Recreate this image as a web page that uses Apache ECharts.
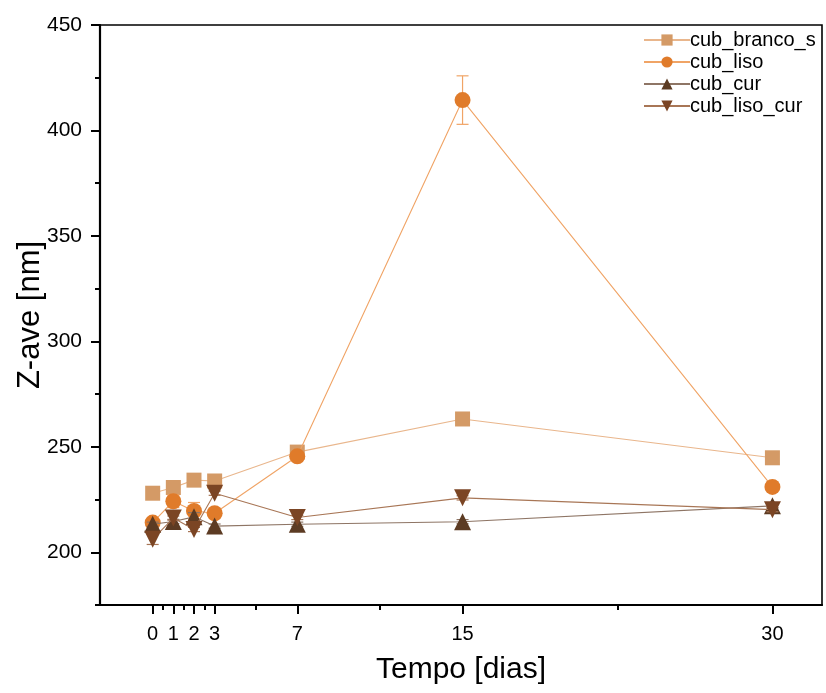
<!DOCTYPE html>
<html>
<head>
<meta charset="utf-8">
<script src="https://cdn.jsdelivr.net/npm/echarts@6/dist/echarts.min.js"></script>
<style>
html,body{margin:0;padding:0;background:#fff;}
#chart{width:826px;height:693px;}
</style>
</head>
<body>
<div id="chart"></div>
<script>
const days = [0, 1, 2, 3, 7, 15, 30];
const xMajorTicks = [0, 1, 2, 3, 7, 15, 30];
const xMinorTicks = [0.5, 1.5, 2.5, 5, 11, 22.5];
const yMajorTicks = [200, 250, 300, 350, 400, 450];
const yMinorTicks = [175, 225, 275, 325, 375, 425];

const seriesNames = ['cub_branco_s', 'cub_liso', 'cub_cur', 'cub_liso_cur'];
const cub_branco_s = [228.0, 230.7, 234.2, 233.8, 247.5, 263.2, 244.8];
const cub_liso = [214.1, 224.2, 219.6, 218.5, 245.5, 414.4, 231.0];
const cub_cur = [213.3, 214.6, 216.8, 212.4, 213.3, 214.5, 222.0];
const cub_liso_cur = [206.2, 216.2, 210.8, 228.0, 216.5, 225.8, 220.2];

const err_branco_s = [1.0, 1.5, 1.0, 1.0, 1.0, 1.0, 1.0];
const err_liso = [1.5, 3.0, 4.0, 1.5, 1.5, 11.5, 1.5];
const err_cur = [1.0, 1.0, 2.0, 1.0, 1.0, 1.0, 1.0];
const err_liso_cur = [2.5, 1.0, 1.0, 1.0, 1.0, 1.0, 1.0];

const values = [cub_branco_s, cub_liso, cub_cur, cub_liso_cur];
const errors = [err_branco_s, err_liso, err_cur, err_liso_cur];
const markerColors = ['#D49A66', '#E07B2A', '#5C3B23', '#7B4524'];
const lineColors = ['#E9B68C', '#F0A466', '#8E7565', '#A87656'];
const symbols = ['rect', 'circle', 'triangle', 'path://M0,0 L10,0 L5,9 Z'];
const sizes = [15, 16, 17, 17];

const FONT = 'Liberation Sans, Arial, sans-serif';

const chart = echarts.init(document.getElementById('chart'));

const series = [];
for (let i = 0; i < 4; i++) {
  const pts = days.map((d, k) => [d, values[i][k]]);
  const errData = days.map((d, k) => [d, values[i][k] - errors[i][k], values[i][k] + errors[i][k]]);
  series.push({
    type: 'custom',
    name: seriesNames[i] + '_err',
    xAxisIndex: 0, yAxisIndex: 0,
    z: 2 + i * 2,
    silent: true,
    data: errData,
    renderItem: function (params, api) {
      const x = api.value(0);
      const lo = api.coord([x, api.value(1)]);
      const hi = api.coord([x, api.value(2)]);
      const w = 6;
      return {
        type: 'group',
        children: [
          {type: 'line', shape: {x1: lo[0], y1: lo[1], x2: hi[0], y2: hi[1]}, style: {stroke: lineColors[i], lineWidth: 1.2}},
          {type: 'line', shape: {x1: lo[0] - w, y1: lo[1], x2: lo[0] + w, y2: lo[1]}, style: {stroke: lineColors[i], lineWidth: 1.2}},
          {type: 'line', shape: {x1: hi[0] - w, y1: hi[1], x2: hi[0] + w, y2: hi[1]}, style: {stroke: lineColors[i], lineWidth: 1.2}}
        ]
      };
    }
  });
  series.push({
    type: 'line',
    name: seriesNames[i],
    xAxisIndex: 0, yAxisIndex: 0,
    z: 3 + i * 2,
    data: pts,
    symbol: symbols[i],
    symbolSize: sizes[i],
    showAllSymbol: true,
    itemStyle: {color: markerColors[i], opacity: 1},
    lineStyle: {color: lineColors[i], width: 1.1},
    emphasis: {disabled: true},
    animation: false
  });
}

const option = {
  animation: false,
  backgroundColor: '#ffffff',
  textStyle: {fontFamily: FONT},
  grid: {
    left: 100, right: 4, top: 25, bottom: 88,
    containLabel: false, outerBoundsMode: 'none',
    show: true, borderColor: '#000', borderWidth: 1.6, backgroundColor: 'transparent'
  },
  legend: {
    left: 638, top: 24, orient: 'vertical',
    itemWidth: 46, itemHeight: 14, itemGap: 0,
    data: seriesNames,
    textStyle: {fontSize: 20, color: '#000', fontFamily: FONT, padding: [0, 0, 0, -5], lineHeight: 22},
    selectedMode: false
  },
  xAxis: [
    {
      type: 'value', min: -2.55, max: 32.4,
      name: 'Tempo [dias]', nameLocation: 'middle', nameGap: 50,
      nameTextStyle: {fontSize: 30, color: '#000', fontFamily: FONT},
      axisLine: {show: true, onZero: false, lineStyle: {color: '#000', width: 2.2}},
      axisTick: {show: true, customValues: xMajorTicks, length: 9, lineStyle: {color: '#000', width: 2}},
      axisLabel: {show: true, customValues: xMajorTicks, fontSize: 20, color: '#000', margin: 19, fontFamily: FONT},
      splitLine: {show: false}
    },
    {
      type: 'value', min: -2.55, max: 32.4, position: 'bottom',
      axisLine: {show: false, onZero: false},
      axisTick: {show: true, customValues: xMinorTicks, length: 5, lineStyle: {color: '#000', width: 2}},
      axisLabel: {show: false},
      splitLine: {show: false}
    }
  ],
  yAxis: [
    {
      type: 'value', min: 175, max: 450,
      name: 'Z-ave [nm]', nameLocation: 'middle', nameGap: 54, nameMoveOverlap: false,
      nameTextStyle: {fontSize: 31, color: '#000', fontFamily: FONT},
      axisLine: {show: true, onZero: false, lineStyle: {color: '#000', width: 2.2}},
      axisTick: {show: true, customValues: yMajorTicks, length: 9, lineStyle: {color: '#000', width: 2}},
      axisLabel: {show: true, customValues: yMajorTicks, fontSize: 21, color: '#000', margin: 18, fontFamily: FONT},
      splitLine: {show: false}
    },
    {
      type: 'value', min: 175, max: 450, position: 'left',
      axisLine: {show: false, onZero: false},
      axisTick: {show: true, customValues: yMinorTicks, length: 5, lineStyle: {color: '#000', width: 2}},
      axisLabel: {show: false},
      splitLine: {show: false}
    }
  ],
  series: series
};

chart.setOption(option);
</script>
</body>
</html>
